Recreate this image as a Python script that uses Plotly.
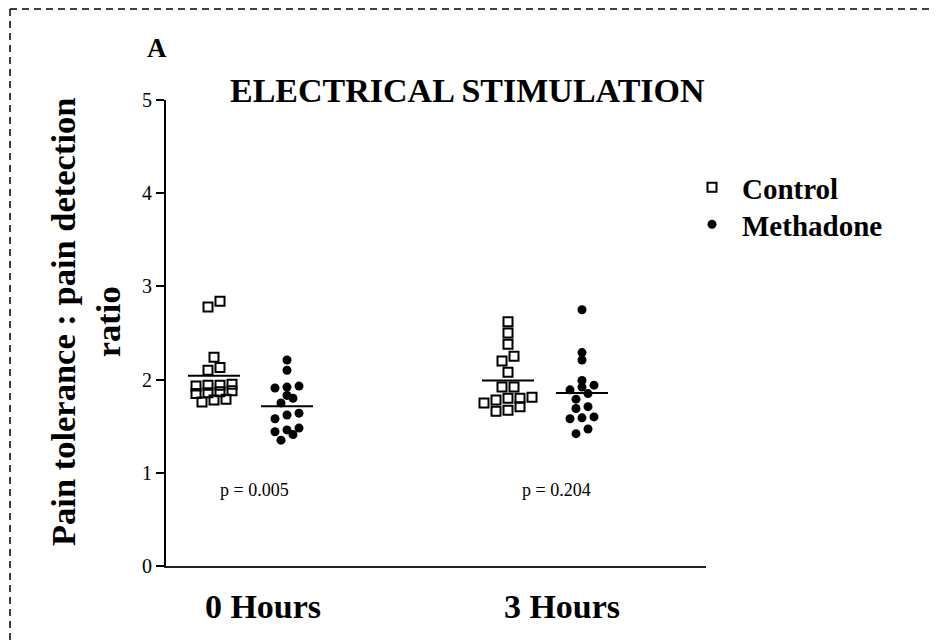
import plotly.graph_objects as go

# ---- data ----
groups = ["0 Hours", "3 Hours"]
series = ["Control", "Methadone"]
control_0h = [2.84, 2.78, 2.24, 2.13, 2.10, 1.95, 1.94, 1.94, 1.93, 1.87, 1.86, 1.85, 1.88, 1.79, 1.76, 1.78]
methadone_0h = [2.21, 2.10, 1.93, 1.92, 1.91, 1.83, 1.80, 1.75, 1.64, 1.62, 1.58, 1.48, 1.46, 1.44, 1.41, 1.35]
control_3h = [2.62, 2.50, 2.38, 2.25, 2.20, 2.08, 1.92, 1.92, 1.81, 1.80, 1.80, 1.78, 1.75, 1.71, 1.67, 1.66]
methadone_3h = [2.75, 2.29, 2.21, 1.99, 1.94, 1.92, 1.89, 1.85, 1.79, 1.71, 1.69, 1.60, 1.59, 1.58, 1.47, 1.42]
p_values = ["p = 0.005", "p = 0.204"]
y_ticks = [0, 1, 2, 3, 4, 5]

# ---- layout constants (page pixel targets; page body has an 8px margin) ----
OFF = 8
W, H = 937 - OFF, 641 - OFF
AX_L, AX_R, AX_T, AX_B = 166, 706, 100, 566      # plot area in page px
ML = AX_L - OFF
MT = AX_T - OFF
MR = W - (AX_R - OFF)
MB = H - (AX_B - OFF)
PW = AX_R - AX_L
PH = AX_B - AX_T
YMAX = 5
YS = PH / YMAX             # px per y unit

centers = {"C0": 48, "M0": 121, "C3": 342, "M3": 416}
group_label_x = [97, 396]
MEAN_LEN = 52
ROW_H = 7.0     # px, rows of the dot plot
STEP = 12.0     # px, horizontal spacing within a row
SERIF = "Liberation Serif, Times New Roman, serif"


def dot_plot_x(values, center):
    """Prism-like scatter dot plot: points with close values share a row."""
    order = sorted(range(len(values)), key=lambda i: values[i])
    rows, cur, start = [], [], None
    for i in order:
        y = values[i] * YS
        if start is None or y - start > ROW_H:
            if cur:
                rows.append(cur)
            cur, start = [i], y
        else:
            cur.append(i)
    if cur:
        rows.append(cur)
    xs = [0.0] * len(values)
    for row in rows:
        n = len(row)
        for k, i in enumerate(row):
            xs[i] = center + (k - (n - 1) / 2) * STEP
    return xs


def px_x(px):
    return (px - AX_L) / PW


def px_y(py):
    return (AX_B - py) / PH


fig = go.Figure()

sets = [
    ("Control", control_0h, centers["C0"], True),
    ("Methadone", methadone_0h, centers["M0"], True),
    ("Control", control_3h, centers["C3"], False),
    ("Methadone", methadone_3h, centers["M3"], False),
]
for name, vals, c, show in sets:
    if name == "Control":
        marker = dict(symbol="square-open", size=9, color="black", line=dict(width=2, color="black"))
        leg = "legend"
    else:
        marker = dict(symbol="circle", size=9, color="black")
        leg = "legend2"
    fig.add_trace(go.Scatter(
        x=dot_plot_x(vals, c), y=vals, mode="markers", name=name, marker=marker,
        showlegend=show, legendgroup=name, legend=leg, cliponaxis=False,
    ))
    m = sum(vals) / len(vals)
    fig.add_shape(type="line", xref="x", yref="y", x0=c - MEAN_LEN / 2, x1=c + MEAN_LEN / 2,
                  y0=m, y1=m, line=dict(color="black", width=2))

# p-values
for px_, txt in zip([88, 390], p_values):
    fig.add_annotation(x=px_, y=0.815, xref="x", yref="y", text=txt, showarrow=False,
                       xanchor="center", yanchor="middle",
                       font=dict(family=SERIF, size=18, color="black"))

# title and panel letter
fig.add_annotation(x=px_x(467), y=px_y(90), xref="paper", yref="paper",
                   text="<b>ELECTRICAL STIMULATION</b>", showarrow=False,
                   xanchor="center", yanchor="middle",
                   font=dict(family=SERIF, size=34, color="black"))
fig.add_annotation(x=px_x(157), y=px_y(48), xref="paper", yref="paper",
                   text="<b>A</b>", showarrow=False, xanchor="center", yanchor="middle",
                   font=dict(family=SERIF, size=27, color="black"))
# y axis title
fig.add_annotation(x=px_x(85), y=px_y(322), xref="paper", yref="paper",
                   text="<b>Pain tolerance : pain detection<br>ratio</b>", showarrow=False,
                   textangle=-90, xanchor="center", yanchor="middle",
                   font=dict(family=SERIF, size=34.5, color="black"))

# dashed border (top and left)
bx = px_x(10)
by = px_y(9)
fig.add_shape(type="line", xref="paper", yref="paper", x0=bx, x1=px_x(937), y0=by, y1=by,
              line=dict(color="black", width=1.5, dash="7px,5px"))
fig.add_shape(type="line", xref="paper", yref="paper", x0=bx, x1=bx, y0=by, y1=px_y(641),
              line=dict(color="black", width=1.5, dash="7px,5px"))

legend_font = dict(family=SERIF, size=29, color="black", weight="bold")
fig.update_layout(
    width=W, height=H, autosize=False,
    margin=dict(l=ML, r=MR, t=MT, b=MB, pad=0),
    paper_bgcolor="white", plot_bgcolor="white",
    font=dict(family=SERIF, color="black"),
    showlegend=True,
    legend=dict(x=px_x(682), y=px_y(162), xanchor="left", yanchor="top",
                font=legend_font, itemwidth=50, bgcolor="rgba(0,0,0,0)"),
    legend2=dict(x=px_x(682), y=px_y(199), xanchor="left", yanchor="top",
                 font=legend_font, itemwidth=50, bgcolor="rgba(0,0,0,0)"),
    xaxis=dict(range=[0, PW], showgrid=False, zeroline=False, showline=True,
               linecolor="#222", linewidth=2, ticks="", tickvals=group_label_x,
               ticktext=["<b>%s</b>" % g for g in groups], ticklabelstandoff=9,
               tickfont=dict(family=SERIF, size=34, color="black"), fixedrange=True),
    yaxis=dict(range=[0, YMAX], showgrid=False, zeroline=False, showline=True,
               linecolor="black", linewidth=2, ticks="outside", ticklen=8, tickwidth=2,
               tickcolor="black", tickvals=y_ticks, ticktext=[str(t) for t in y_ticks],
               tickfont=dict(family=SERIF, size=20, color="black"), fixedrange=True),
)

fig.write_html("out.html")
